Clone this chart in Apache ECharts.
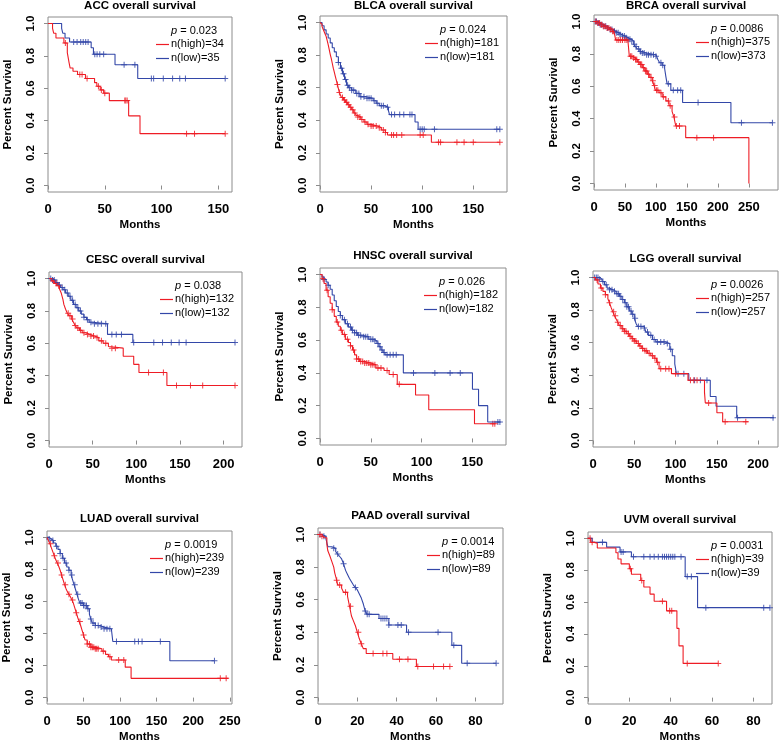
<!DOCTYPE html>
<html><head><meta charset="utf-8">
<script src="https://cdn.jsdelivr.net/npm/echarts@6/dist/echarts.min.js"></script>
<style>html,body{margin:0;padding:0;background:#fff}#c{width:779px;height:744px}</style>
</head><body><div id="c"></div>
<script>
// ---------- DATA ----------
const panelNames = ['ACC','BLCA','BRCA','CESC','HNSC','LGG','LUAD','PAAD','UVM'];
const pValues = ['0.023','0.024','0.0086','0.038','0.026','0.0026','0.0019','0.0014','0.0031'];
const nHigh = [34,181,375,132,182,257,239,89,39];
const nLow  = [35,181,373,132,182,257,239,89,39];
const xTicks = [[0,50,100,150],[0,50,100,150],[0,50,100,150,200,250],
                [0,50,100,150,200],[0,50,100,150],[0,50,100,150,200],
                [0,50,100,150,200,250],[0,20,40,60,80],[0,20,40,60,80]];
const yTicks = [0,0.2,0.4,0.6,0.8,1.0];

// survival steps [month, survival] and censor months
const ACC_high = [[0,1],[4,0.97],[5,0.94],[7,0.91],[14,0.88],[17,0.82],[18.5,0.76],[19.5,0.725],[22,0.705],[26,0.685],[33,0.66],[41,0.635],[43,0.613],[46,0.59],[49,0.57],[54,0.524],[71,0.43],[81,0.32],[156,0.32]];
const ACC_high_c = [15.3,28,30,34.4,44.4,47,50,67.6,68.5,69.7,122,129,156];
const ACC_low = [[0,1],[12,0.97],[13,0.94],[15,0.91],[19,0.886],[38,0.85],[40,0.81],[59,0.745],[79,0.66],[156,0.66]];
const ACC_low_c = [22.6,25.6,28.8,31,33.2,35.3,41.2,43.2,45.6,49,67,76.5,91,93,101.5,109.7,116,121,156];

const BLCA_high = [[0,1],[1,0.99],[2,0.975],[3,0.96],[4,0.945],[5,0.93],[6,0.915],[7,0.89],[8,0.865],[9,0.835],[10,0.805],[11,0.78],[12,0.75],[13,0.72],[14,0.695],[15,0.67],[16,0.645],[17,0.62],[18,0.595],[19,0.57],[20,0.555],[21,0.54],[23,0.525],[25,0.51],[27,0.495],[29,0.48],[31,0.465],[33,0.445],[35,0.43],[37,0.42],[40,0.405],[43,0.39],[46,0.375],[50,0.365],[56,0.355],[60,0.34],[64,0.325],[66,0.31],[109,0.265],[176,0.265]];
const BLCA_high_c = [17,19,22,24,26,28,30,32,34,37,39,41,44,47,50,52,55,58,62,64,70,72,75,80,98,101,116,118,134,141,150,176];
const BLCA_low = [[0,1],[2,0.98],[4,0.955],[6,0.93],[8,0.905],[10,0.875],[12,0.845],[14,0.82],[16,0.79],[18,0.755],[20,0.72],[22,0.685],[24,0.65],[26,0.615],[28,0.6],[31,0.585],[35,0.565],[39,0.545],[45,0.535],[52,0.52],[55,0.505],[58,0.49],[63,0.48],[67,0.46],[68,0.435],[93,0.39],[96,0.345],[176,0.345]];
const BLCA_low_c = [18,21,23,25,27,29,31,33,36,38,40,43,46,48,50,53,56,60,62,66,70,73,78,82,88,90,98,100,102,112,173,176];

const BRCA_high = [[0,1],[5,0.99],[10,0.98],[15,0.97],[20,0.96],[25,0.95],[30,0.94],[33,0.925],[35,0.885],[55,0.87],[57,0.785],[62,0.775],[66,0.765],[70,0.75],[74,0.735],[78,0.715],[82,0.695],[86,0.675],[90,0.655],[94,0.635],[97,0.605],[99,0.575],[105,0.56],[110,0.535],[116,0.51],[121,0.48],[126,0.445],[129,0.41],[132,0.355],[148,0.283],[250,0]];
const BRCA_high_c = [3,6,9,12,15,18,21,24,27,30,32,37,40,43,46,50,53,59,61,64,67,69,72,75,77,80,83,85,88,92,95,98,101,103,108,112,120,123,130,133,138,166,193];
const BRCA_low = [[0,1],[5,0.99],[10,0.98],[15,0.97],[20,0.96],[25,0.95],[30,0.94],[35,0.93],[40,0.92],[45,0.91],[50,0.9],[55,0.89],[60,0.88],[64,0.86],[67,0.845],[70,0.83],[74,0.815],[78,0.805],[84,0.795],[100,0.785],[103,0.765],[106,0.745],[110,0.73],[114,0.71],[116,0.66],[118,0.615],[124,0.575],[143,0.5],[221,0.375],[288,0.375]];
const BRCA_low_c = [2,4,7,10,13,16,19,22,26,29,33,36,39,42,46,49,52,55,58,61,65,68,72,75,78,81,85,88,92,96,100,108,111,120,128,135,140,168,238,288];

const CESC_high = [[0,1],[3,0.985],[6,0.97],[9,0.955],[12,0.935],[14,0.91],[16,0.87],[17,0.84],[19,0.81],[21,0.785],[23,0.77],[26,0.75],[28,0.73],[30,0.71],[32,0.695],[35,0.68],[38,0.665],[42,0.655],[47,0.645],[52,0.635],[57,0.615],[62,0.6],[68,0.58],[70,0.57],[85,0.52],[97,0.47],[103,0.42],[135,0.34],[213,0.34]];
const CESC_high_c = [5,8,11,22,24,27,30,33,36,40,44,48,51,55,60,65,72,76,114,131,146,162,176,213];
const CESC_low = [[0,1],[3,0.99],[7,0.975],[10,0.96],[13,0.945],[16,0.93],[19,0.91],[22,0.89],[25,0.865],[28,0.84],[31,0.82],[34,0.8],[37,0.78],[40,0.76],[43,0.745],[46,0.73],[50,0.72],[67,0.655],[96,0.605],[213,0.605]];
const CESC_low_c = [2,4,6,9,12,15,18,21,24,27,30,33,36,40,44,48,52,56,60,65,72,77,83,97,120,130,140,149,157,213];

const HNSC_high = [[0,1],[2,0.975],[4,0.945],[6,0.905],[8,0.865],[10,0.825],[12,0.785],[14,0.745],[16,0.71],[18,0.685],[20,0.66],[22,0.635],[25,0.605],[28,0.585],[30,0.565],[32,0.54],[34,0.51],[36,0.485],[39,0.47],[44,0.46],[50,0.45],[55,0.43],[63,0.415],[68,0.39],[76,0.33],[94,0.265],[107,0.175],[152,0.09],[172,0.09]];
const HNSC_high_c = [3,7,12,17,21,24,27,30,33,36,38,40,42,44,46,48,50,52,54,57,60,66,72,78,170,172];
const HNSC_low = [[0,1],[2,0.985],[4,0.97],[6,0.955],[8,0.935],[10,0.91],[12,0.875],[14,0.84],[16,0.805],[18,0.775],[20,0.75],[22,0.725],[25,0.7],[28,0.68],[31,0.66],[34,0.645],[37,0.63],[42,0.62],[48,0.605],[53,0.595],[56,0.58],[58,0.56],[60,0.54],[62,0.525],[64,0.51],[82,0.4],[150,0.3],[156,0.2],[165,0.1],[177,0.1]];
const HNSC_low_c = [4,8,20,24,27,30,32,34,36,38,40,43,45,47,50,52,54,57,59,61,63,66,69,72,75,92,113,128,138,175,177];

const LGG_high = [[0,1],[3,0.985],[6,0.96],[9,0.935],[12,0.915],[15,0.895],[18,0.87],[20,0.845],[22,0.815],[24,0.79],[26,0.765],[28,0.745],[30,0.725],[32,0.705],[35,0.685],[38,0.67],[41,0.655],[44,0.64],[47,0.625],[50,0.61],[53,0.595],[56,0.58],[59,0.565],[62,0.55],[66,0.535],[70,0.52],[74,0.505],[77,0.48],[80,0.44],[95,0.41],[115,0.37],[135,0.295],[136,0.23],[150,0.17],[157,0.115],[188,0.115]];
const LGG_high_c = [5,10,15,20,25,27,30,33,36,38,40,43,45,48,50,52,55,57,60,63,65,68,72,75,78,82,88,92,100,118,122,126,140,160,185];
const LGG_low = [[0,1],[8,0.99],[11,0.975],[14,0.955],[17,0.935],[20,0.925],[24,0.915],[28,0.9],[32,0.885],[35,0.865],[38,0.845],[41,0.82],[44,0.795],[47,0.775],[50,0.75],[52,0.72],[54,0.7],[62,0.69],[64,0.665],[67,0.645],[72,0.62],[76,0.605],[88,0.595],[93,0.56],[96,0.52],[99,0.47],[101,0.41],[116,0.37],[142,0.27],[149,0.21],[174,0.14],[219,0.14]];
const LGG_low_c = [2,4,6,8,12,16,20,23,26,29,31,33,36,39,41,43,46,48,51,55,58,62,66,70,74,78,82,86,90,94,103,110,123,130,138,175,218];

const LUAD_high = [[0,1],[2,0.98],[4,0.96],[6,0.935],[8,0.91],[10,0.885],[12,0.86],[14,0.84],[16,0.82],[18,0.795],[20,0.765],[22,0.735],[24,0.705],[26,0.68],[28,0.66],[30,0.645],[32,0.63],[34,0.61],[36,0.59],[38,0.56],[40,0.53],[42,0.5],[44,0.475],[46,0.45],[48,0.42],[50,0.39],[52,0.36],[55,0.335],[60,0.315],[66,0.305],[75,0.29],[80,0.27],[84,0.255],[88,0.235],[107,0.19],[115,0.12],[248,0.12]];
const LUAD_high_c = [5,10,15,20,25,30,35,40,45,50,55,58,60,62,64,66,68,70,77,86,98,105,237,245];
const LUAD_low = [[0,1],[3,0.99],[6,0.98],[9,0.965],[12,0.945],[15,0.925],[18,0.9],[21,0.87],[24,0.84],[27,0.815],[30,0.795],[33,0.765],[35,0.735],[37,0.705],[39,0.675],[41,0.645],[43,0.615],[45,0.59],[50,0.575],[55,0.555],[58,0.52],[60,0.49],[62,0.465],[66,0.45],[72,0.44],[78,0.43],[88,0.42],[90,0.35],[168,0.23],[229,0.23]];
const LUAD_low_c = [3,8,13,18,22,26,30,34,38,42,46,48,50,52,54,56,60,63,66,70,74,78,82,86,95,120,125,130,155,229];

const PAAD_high = [[0,1],[2,0.99],[3,0.98],[4.5,0.94],[5,0.9],[6,0.87],[7,0.835],[8,0.8],[8.5,0.765],[9.5,0.72],[10,0.69],[12,0.67],[13,0.645],[15,0.62],[16,0.56],[17,0.5],[18,0.47],[19,0.44],[20,0.4],[21,0.36],[22,0.33],[23,0.3],[24.5,0.27],[38,0.235],[50,0.19],[67,0.19]];
const PAAD_high_c = [1,2,9.5,11,14,16.5,20.5,22,28,33,35,41.4,45.7,50.7,58.7,63.8,67];
const PAAD_low = [[0,1],[2,0.99],[4,0.975],[5,0.925],[7,0.915],[9,0.895],[10,0.88],[11,0.865],[12,0.85],[13,0.82],[14,0.78],[15,0.755],[16,0.73],[17,0.71],[18,0.69],[19,0.675],[20,0.66],[21,0.635],[22,0.61],[23,0.575],[24,0.53],[25,0.51],[31,0.485],[36,0.445],[45,0.4],[68,0.32],[73,0.21],[90.5,0.21]];
const PAAD_low_c = [1,3,8,10,13,19,24,25,26,32,33,34,35,36,40.6,42.3,46,61,69,75.8,90.5];

const UVM_high = [[0,1],[1.3,0.975],[3,0.97],[4.5,0.94],[13.5,0.91],[14.5,0.87],[16,0.84],[20,0.81],[21,0.775],[25.5,0.735],[27,0.695],[30,0.65],[32,0.605],[38,0.545],[43,0.435],[44,0.325],[46,0.215],[63,0.215]];
const UVM_high_c = [1,2,20.5,26,36,39.5,40.5,48,63];
const UVM_low = [[0,1],[2,0.975],[9,0.945],[15.5,0.915],[21,0.885],[47,0.76],[53,0.565],[88,0.565]];
const UVM_low_c = [7,16,17,22,27,30,32,34,36,37,38,39,40,41,42,45,48,50,57,85,88];

const highCurves = [ACC_high,BLCA_high,BRCA_high,CESC_high,HNSC_high,LGG_high,LUAD_high,PAAD_high,UVM_high];
const highCensor = [ACC_high_c,BLCA_high_c,BRCA_high_c,CESC_high_c,HNSC_high_c,LGG_high_c,LUAD_high_c,PAAD_high_c,UVM_high_c];
const lowCurves = [ACC_low,BLCA_low,BRCA_low,CESC_low,HNSC_low,LGG_low,LUAD_low,PAAD_low,UVM_low];
const lowCensor = [ACC_low_c,BLCA_low_c,BRCA_low_c,CESC_low_c,HNSC_low_c,LGG_low_c,LUAD_low_c,PAAD_low_c,UVM_low_c];

// ---------- LAYOUT (pixels) ----------
const layout = [
  {l:48, t:17, r:232, b:192, xmax:162},
  {l:320,t:16, r:507, b:192, xmax:183},
  {l:594,t:15, r:778, b:190, xmax:297},
  {l:49, t:272,r:242, b:447, xmax:221},
  {l:320,t:268,r:506, b:445, xmax:183},
  {l:593,t:271,r:778, b:447, xmax:224},
  {l:47, t:531,r:232, b:707, xmax:253},
  {l:318,t:528,r:503, b:704, xmax:94},
  {l:588,t:532,r:772, b:709, xmax:89}
];
const RED = '#ee1c25', BLUE = '#3347a8', FONT = '"Liberation Sans", Arial, sans-serif';
const PLUS = 'path://M2.5,0H3.5V2.5H6V3.5H3.5V6H2.5V3.5H0V2.5H2.5Z';

function survAt(steps, t) {
  let v = steps[0][1];
  for (const [tt, s] of steps) { if (tt <= t) v = s; else break; }
  return v;
}
const ctx = document.createElement('canvas').getContext('2d');
ctx.font = '11px ' + FONT;

const grids = [], xAxes = [], yAxes = [], series = [], gfx = [];
layout.forEach((L, i) => {
  grids.push({left: L.l, top: L.t, width: L.r - L.l, height: L.b - L.t, show: true,
    borderColor: '#8c8c8c', borderWidth: 1, backgroundColor: 'transparent'});
  xAxes.push({type: 'value', gridIndex: i, min: 0, max: L.xmax,
    axisLine: {show: false}, splitLine: {show: false},
    axisTick: {show: true, length: 4, lineStyle: {color: '#8c8c8c'}, customValues: xTicks[i]},
    axisLabel: {customValues: xTicks[i], color: '#000', fontWeight: 'bold', fontSize: 13, fontFamily: FONT, margin: 11},
    name: 'Months', nameLocation: 'middle', nameGap: 27,
    nameTextStyle: {color: '#000', fontWeight: 'bold', fontSize: 11.5, fontFamily: FONT}});
  yAxes.push({type: 'value', gridIndex: i, min: -0.04, max: 1.04,
    axisLine: {show: false}, splitLine: {show: false},
    axisTick: {show: true, length: 4, lineStyle: {color: '#8c8c8c'}, customValues: yTicks},
    axisLabel: {customValues: yTicks, rotate: 90, color: '#000', fontWeight: 'bold', fontSize: 11.5, fontFamily: FONT, margin: 11,
      formatter: v => v.toFixed(1)},
    name: 'Percent Survival', nameLocation: 'middle', nameRotate: 90, nameGap: 34,
    nameTextStyle: {color: '#000', fontWeight: 'bold', fontSize: 11.5, fontFamily: FONT}});
  [[lowCurves[i], lowCensor[i], BLUE], [highCurves[i], highCensor[i], RED]].forEach(([curve, cens, col]) => {
    series.push({type: 'line', xAxisIndex: i, yAxisIndex: i, step: 'end', data: curve,
      showSymbol: false, symbol: 'none', lineStyle: {color: col, width: 1.1}, silent: true, animation: false});
    series.push({type: 'scatter', xAxisIndex: i, yAxisIndex: i, data: cens.map(t => [t, survAt(curve, t)]),
      symbol: PLUS, symbolSize: 6, itemStyle: {color: col, opacity: 0.85}, silent: true, animation: false});
  });
  // title
  gfx.push({type: 'text', x: (L.l + L.r) / 2, y: Math.max(L.t - 12, 6),
    style: {text: panelNames[i] + ' overall survival', font: 'bold 11.5px ' + FONT, fill: '#000',
      textAlign: 'center', textVerticalAlign: 'middle'}});
  // legend
  const hiTxt = 'n(high)=' + nHigh[i], loTxt = 'n(low)=' + nLow[i];
  const tx = Math.round(L.r - 8 - ctx.measureText(hiTxt).width);
  gfx.push({type: 'text', x: tx, y: L.t + 14,
    style: {text: '{i|p} = ' + pValues[i], font: '11px ' + FONT, fill: '#000', textAlign: 'left', textVerticalAlign: 'middle',
      rich: {i: {fontStyle: 'italic', fontSize: 11, fontFamily: FONT}}}});
  [[hiTxt, RED, 27], [loTxt, BLUE, 41]].forEach(([txt, col, dy]) => {
    gfx.push({type: 'line', shape: {x1: tx - 15, y1: L.t + dy + 0.5, x2: tx - 2, y2: L.t + dy + 0.5},
      style: {stroke: col, lineWidth: 1.2}, z: 100});
    gfx.push({type: 'text', x: tx, y: L.t + dy,
      style: {text: txt, font: '11px ' + FONT, fill: '#000', textAlign: 'left', textVerticalAlign: 'middle'}});
  });
});

const chart = echarts.init(document.getElementById('c'), null, {renderer: 'canvas'});
chart.setOption({animation: false, grid: grids, xAxis: xAxes, yAxis: yAxes, series: series, graphic: {elements: gfx}});
</script></body></html>
